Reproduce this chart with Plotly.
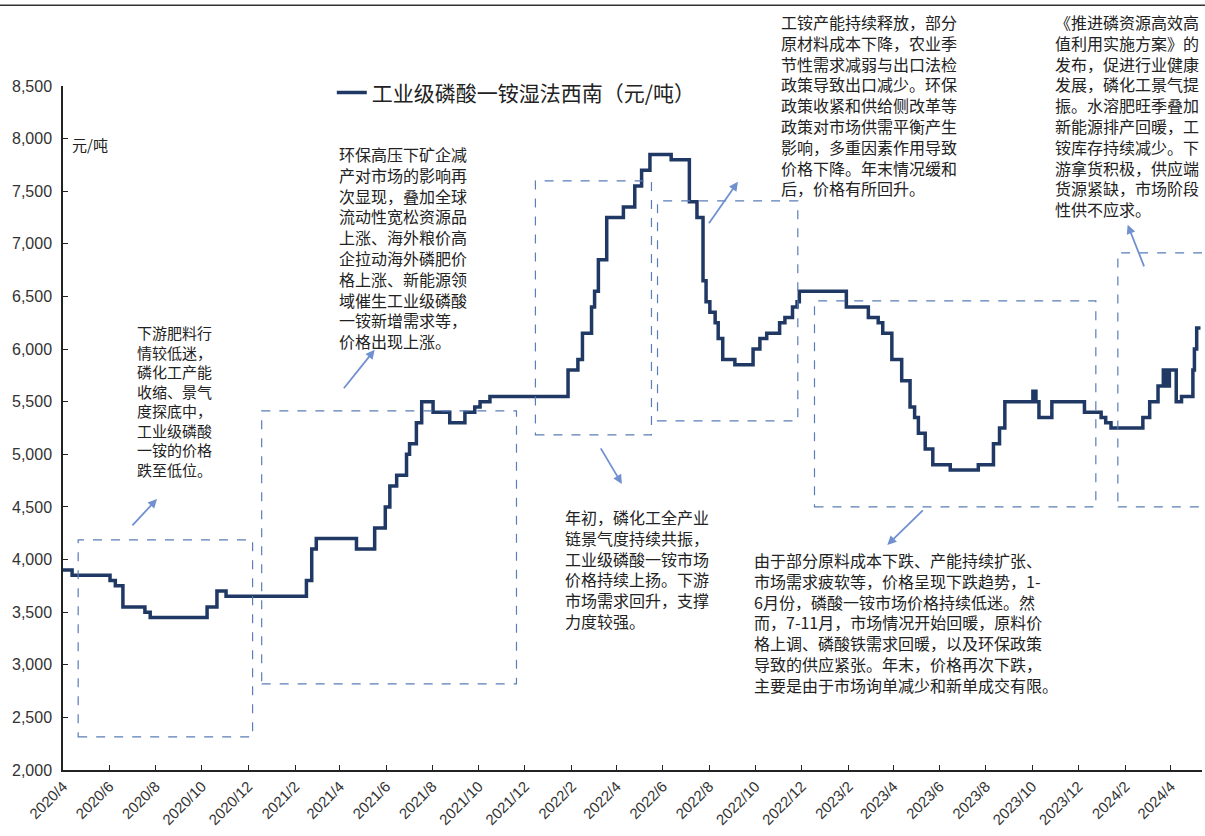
import plotly.graph_objects as go

# ---- data: change points of the price series (yuan/ton) ----
dates = [
    "2020-04-01", "2020-04-13", "2020-06-02", "2020-06-09", "2020-06-19", "2020-07-18", "2020-07-25",
    "2020-10-08", "2020-10-21", "2020-11-02", "2021-02-16", "2021-02-23", "2021-03-01", "2021-04-23",
    "2021-05-17", "2021-05-31", "2021-06-06", "2021-06-15", "2021-06-28", "2021-07-02", "2021-07-11",
    "2021-07-18", "2021-08-02", "2021-08-24", "2021-09-13", "2021-09-26", "2021-10-03", "2021-10-16",
    "2022-01-27", "2022-02-09", "2022-02-15", "2022-02-27", "2022-03-03", "2022-03-08", "2022-03-19",
    "2022-04-10", "2022-04-25", "2022-05-04", "2022-05-15", "2022-06-12", "2022-07-06", "2022-07-16",
    "2022-07-24", "2022-07-28", "2022-08-02", "2022-08-09", "2022-08-13", "2022-08-19", "2022-09-04",
    "2022-09-28", "2022-10-07", "2022-10-16", "2022-11-02", "2022-11-09", "2022-11-19", "2022-11-25",
    "2022-11-28", "2023-01-29", "2023-02-27", "2023-03-12", "2023-03-18", "2023-03-30", "2023-04-12",
    "2023-04-23", "2023-04-29", "2023-05-04", "2023-05-13", "2023-05-23", "2023-06-15", "2023-07-22",
    "2023-08-11", "2023-08-19", "2023-08-26", "2023-10-02", "2023-10-06", "2023-10-10", "2023-10-27",
    "2023-12-09", "2023-12-31", "2024-01-06", "2024-01-13", "2024-02-24", "2024-03-04", "2024-03-15",
    "2024-03-22", "2024-03-24", "2024-03-26", "2024-03-28", "2024-03-30", "2024-04-08", "2024-04-15",
    "2024-04-30", "2024-05-02", "2024-05-05", "2024-05-10",
]
prices = [
    3900, 3850, 3800, 3750, 3550, 3500, 3450,
    3550, 3700, 3650, 3800, 4100, 4200, 4100,
    4300, 4500, 4700, 4800, 5000, 5100, 5300,
    5500, 5400, 5300, 5400, 5450, 5500, 5550,
    5800, 5900, 6150, 6400, 6550, 6850, 7250,
    7350, 7550, 7700, 7850, 7800, 7400, 7250,
    6650, 6450, 6350, 6250, 6100, 5900, 5850,
    6000, 6100, 6150, 6250, 6300, 6400, 6450,
    6550, 6400, 6300, 6250, 6150, 5900, 5700,
    5450, 5350, 5200, 5050, 4900, 4850, 4900,
    5100, 5250, 5500, 5600, 5500, 5350, 5500,
    5400, 5350, 5300, 5250, 5350, 5500, 5650,
    5800, 5650, 5800, 5650, 5800, 5500, 5550,
    5800, 6000, 6200, 6200,
]
series_name = "工业级磷酸一铵湿法西南（元/吨）"
unit_label = "元/吨"

# ---- annotation content ----
notes = [
    "下游肥料行<br>情较低迷，<br>磷化工产能<br>收缩、景气<br>度探底中，<br>工业级磷酸<br>一铵的价格<br>跌至低位。",
    "环保高压下矿企减<br>产对市场的影响再<br>次显现，叠加全球<br>流动性宽松资源品<br>上涨、海外粮价高<br>企拉动海外磷肥价<br>格上涨、新能源领<br>域催生工业级磷酸<br>一铵新增需求等，<br>价格出现上涨。",
    "年初，磷化工全产业<br>链景气度持续共振，<br>工业级磷酸一铵市场<br>价格持续上扬。下游<br>市场需求回升，支撑<br>力度较强。",
    "工铵产能持续释放，部分<br>原材料成本下降，农业季<br>节性需求减弱与出口法检<br>政策导致出口减少。环保<br>政策收紧和供给侧改革等<br>政策对市场供需平衡产生<br>影响，多重因素作用导致<br>价格下降。年末情况缓和<br>后，价格有所回升。",
    "由于部分原料成本下跌、产能持续扩张、<br>市场需求疲软等，价格呈现下跌趋势，1-<br>6月份，磷酸一铵市场价格持续低迷。然<br>而，7-11月，市场情况开始回暖，原料价<br>格上调、磷酸铁需求回暖，以及环保政策<br>导致的供应紧张。年末，价格再次下跌，<br>主要是由于市场询单减少和新单成交有限。",
    "《推进磷资源高效高<br>值利用实施方案》的<br>发布，促进行业健康<br>发展，磷化工景气提<br>振。水溶肥旺季叠加<br>新能源排产回暖，工<br>铵库存持续减少。下<br>游拿货积极，供应端<br>货源紧缺，市场阶段<br>性供不应求。",
]
# note anchors in paper coordinates (top-left corner)
note_x = [0.063, 0.241, 0.439, 0.629, 0.605, 0.869]
note_y = [0.658, 0.921, 0.390, 1.114, 0.327, 1.114]
note_size = [15, 16, 16, 16, 16, 16]

# dashed period boxes
box_x0 = ["2020-04-21", "2020-12-19", "2021-12-15", "2022-05-25", "2022-12-18", "2024-01-22"]
box_x1 = ["2020-12-07", "2021-11-20", "2022-05-17", "2022-11-26", "2023-12-24", "2024-07-01"]
box_y0 = [2314, 2818, 5184, 5318, 4500, 4500]
box_y1 = [4186, 5413, 7599, 7409, 6458, 6915]

# arrows: head position and tail pixel offsets
arrow_x = ["2020-08-03", "2021-05-17", "2022-04-08", "2022-09-08", "2023-03-24", "2024-02-04"]
arrow_y = [4576, 5993, 4719, 7590, 4139, 7181]
arrow_ax = [-26, -32, -22, -30, 37, 17]
arrow_ay = [28, 40, -37, 43, -36, 43]

FONT = "Noto Sans CJK SC, Liberation Sans, sans-serif"
TICKFONT = "Liberation Sans, Noto Sans CJK SC, sans-serif"

fig = go.Figure()
fig.add_trace(go.Scatter(
    x=dates, y=prices, mode="lines", name=series_name,
    line=dict(color="#203864", width=3.5, shape="hv"),
))

for x0, x1, y0, y1 in zip(box_x0, box_x1, box_y0, box_y1):
    fig.add_shape(type="rect", xref="x", yref="y", x0=x0, x1=x1, y0=y0, y1=y1,
                  line=dict(color="#5B7DB8", width=1.2, dash="dash"), layer="above")

for t, x, y, s in zip(notes, note_x, note_y, note_size):
    fig.add_annotation(x=x, y=y, xref="paper", yref="paper", text=t, showarrow=False,
                       xanchor="left", yanchor="top", align="left",
                       font=dict(family=FONT, size=s, color="#222222"))

for x, y, ax, ay in zip(arrow_x, arrow_y, arrow_ax, arrow_ay):
    fig.add_annotation(x=x, y=y, xref="x", yref="y", ax=ax, ay=ay, text="",
                       showarrow=True, arrowhead=2, arrowsize=1, arrowwidth=1.8,
                       arrowcolor="#7090D0")

fig.add_annotation(x=0.006, y=0.915, xref="paper", yref="paper", text=unit_label,
                   showarrow=False, xanchor="left", yanchor="middle",
                   font=dict(family=FONT, size=15, color="#222222"))

# top frame line
fig.add_shape(type="line", xref="paper", yref="paper", x0=-0.06, x1=1.01, y0=1.118, y1=1.118,
              line=dict(color="#333333", width=1.5))

fig.update_layout(
    width=1205, height=836,
    margin=dict(l=63, r=3, t=86, b=66),
    paper_bgcolor="white", plot_bgcolor="white",
    showlegend=True,
    legend=dict(x=0.236, y=0.99, xanchor="left", yanchor="middle", bgcolor="rgba(0,0,0,0)",
                font=dict(family=FONT, size=21, color="#222222")),
    xaxis=dict(
        type="date", range=["2020-04-01", "2024-05-12"],
        tick0="2020-04-01", dtick="M2", tickformat="%Y/%-m", tickangle=-45,
        ticks="inside", ticklen=5, tickcolor="#222", showgrid=False, zeroline=False,
        showline=True, linecolor="#222", linewidth=1.5,
        tickfont=dict(family=TICKFONT, size=15, color="#333333"),
    ),
    yaxis=dict(
        range=[2000, 8500], dtick=500, tickformat=",",
        ticks="inside", ticklen=5, tickcolor="#222", showgrid=False, zeroline=False,
        showline=True, linecolor="#222", linewidth=1.5, ticklabelstandoff=6,
        tickfont=dict(family=TICKFONT, size=16, color="#333333"),
    ),
)

fig.write_html("out.html")
